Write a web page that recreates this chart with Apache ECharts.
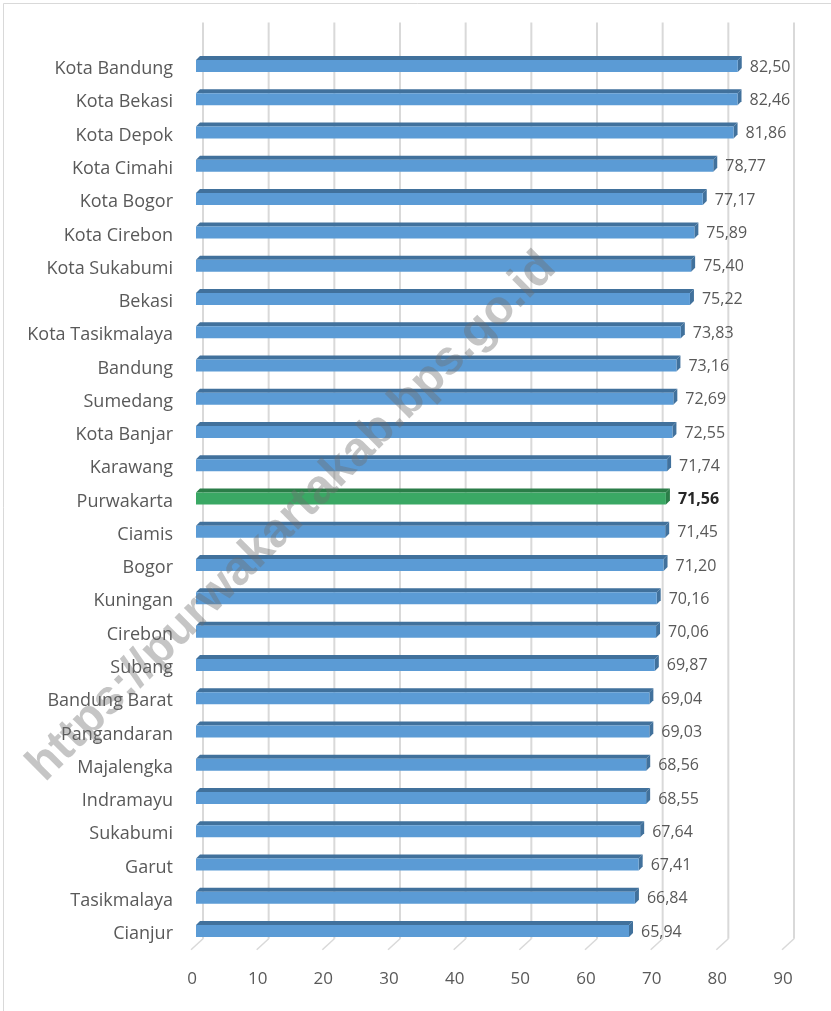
<!DOCTYPE html>
<html>
<head>
<meta charset="utf-8">
<title>IPM Jawa Barat</title>
<script src="https://cdn.jsdelivr.net/npm/echarts@6/dist/echarts.min.js"></script>
<style>
	html,body{margin:0;padding:0;width:100%;height:100%;background:#fff}
	#chart{width:831px;height:1011px}
</style>
</head>
<body>
<div id="chart"></div>
<script>
// data
var categories = ['Kota Bandung','Kota Bekasi','Kota Depok','Kota Cimahi','Kota Bogor','Kota Cirebon',
	'Kota Sukabumi','Bekasi','Kota Tasikmalaya','Bandung','Sumedang','Kota Banjar','Karawang',
	'Purwakarta','Ciamis','Bogor','Kuningan','Cirebon','Subang','Bandung Barat','Pangandaran',
	'Majalengka','Indramayu','Sukabumi','Garut','Tasikmalaya','Cianjur'];
var values = [82.50,82.46,81.86,78.77,77.17,75.89,75.40,75.22,73.83,73.16,72.69,72.55,71.74,
	71.56,71.45,71.20,70.16,70.06,69.87,69.04,69.03,68.56,68.55,67.64,67.41,66.84,65.94];
var ticks = [0,10,20,30,40,50,60,70,80,90];
var highlight = 'Purwakarta';

var chart = echarts.init(document.getElementById('chart'));
var FONT = '"Open Sans", sans-serif';

function renderBar(params, api){
	var v = api.value(0), c = api.value(1);
	var p = api.coord([v, c]), p0 = api.coord([0, c]);
	var d = 4, h = 12;
	var x0 = p0[0] + 4, x1 = p[0] + 4, yt = p[1] - 4;
	var hi = categories[c] === highlight;
	var front = hi ? '#3aa864' : '#5b9bd5';
	var dark = hi ? '#2b7d48' : '#41719c';
	return {type:'group', children:[
		{type:'polygon', shape:{points:[[x0,yt],[x1,yt],[x1+d,yt-d],[x0+d,yt-d]]}, style:{fill:dark}},
		{type:'polygon', shape:{points:[[x1,yt],[x1+d,yt-d],[x1+d,yt-d+h],[x1,yt+h]]}, style:{fill:dark}},
		{type:'rect', shape:{x:x0, y:yt, width:x1-x0, height:h}, style:{fill:front}},
		{type:'text', x:x1+12, y:yt+h/2+1, style:{
			text: v.toFixed(2).replace('.', ','), fill: hi ? '#262626' : '#595959',
			font: (hi ? 'bold ' : '') + '16px ' + FONT, verticalAlign:'middle', align:'left'}}
	]};
}

function renderGrid(params, api){
	var x = api.coord([api.value(0), 0])[0];
	var cs = params.coordSys;
	var bottom = cs.y + cs.height;
	return {type:'group', children:[
		{type:'line', shape:{x1:x+11, y1:cs.y-25, x2:x+11, y2:bottom-7}, style:{stroke:'#d9d9d9', lineWidth:2}},
		{type:'line', shape:{x1:x-1, y1:bottom+4, x2:x+11, y2:bottom-7}, style:{stroke:'#d9d9d9', lineWidth:1.5}}
	]};
}

var option = {
	animation:false,
	backgroundColor:'#ffffff',
	grid:{left:192, right:48, top:47.4, bottom:65.3},
	xAxis:{
		type:'value', min:0, max:90, interval:10,
		axisLine:{show:false}, axisTick:{show:false}, splitLine:{show:false},
		axisLabel:{color:'#595959', fontSize:17, fontFamily:FONT, margin:25}
	},
	yAxis:{
		type:'category', data:categories, inverse:true,
		axisLine:{show:false}, axisTick:{show:false}, splitLine:{show:false},
		axisLabel:{color:'#595959', fontSize:18, fontFamily:FONT, margin:19,
			verticalAlign:'top', lineHeight:10}
	},
	graphic:[
		{type:'rect', shape:{x:3.5, y:3.5, width:900, height:1100}, style:{fill:null, stroke:'#d9d9d9', lineWidth:1}, z:-10},
		{type:'text', x:292, y:517, rotation:Math.PI/4, z:100, style:{
			text:'https://purwakartakab.bps.go.id', font:'bold 48px "Liberation Sans", Arial, sans-serif',
			fill:'rgba(110,110,110,0.4)', align:'center', verticalAlign:'middle'}}
	],
	series:[
		{type:'custom', renderItem:renderGrid, data:ticks.map(function(t){return [t, 0];}),
			encode:{x:0, y:1}, z:1, silent:true},
		{type:'custom', renderItem:renderBar, data:values.map(function(v, i){return [v, i];}),
			encode:{x:0, y:1}, z:2}
	]
};
chart.setOption(option);
</script>
</body>
</html>
